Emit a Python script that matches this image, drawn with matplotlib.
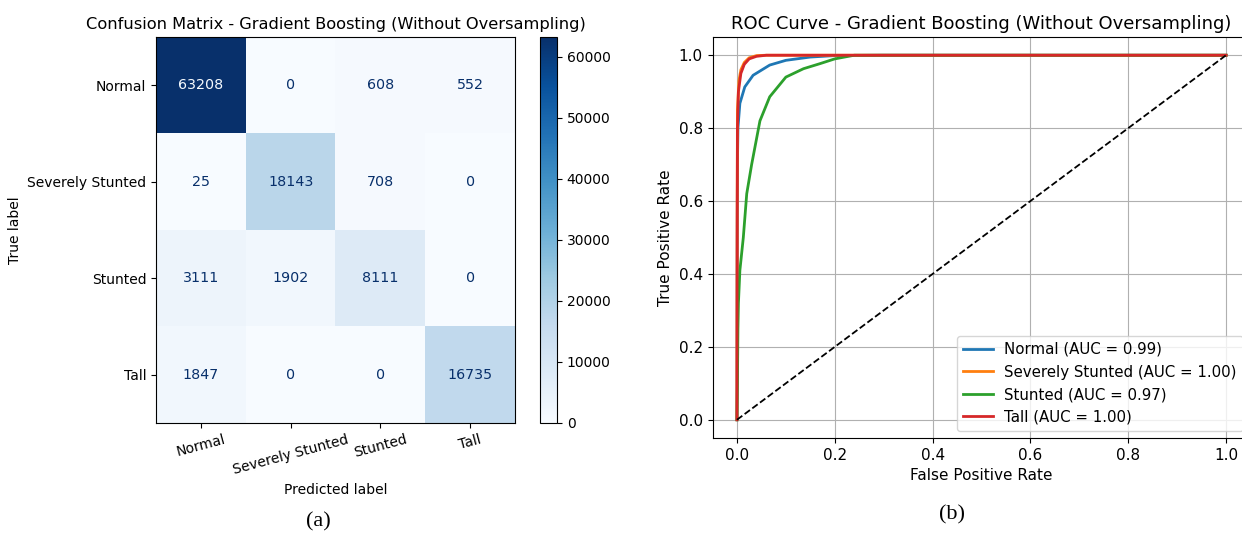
import matplotlib
matplotlib.use("Agg")
import matplotlib.pyplot as plt
import numpy as np

plt.rcParams['font.family'] = ['DejaVu Sans']

# ---- data ----
classes = ["Normal", "Severely Stunted", "Stunted", "Tall"]
cm_row_normal = [63208, 0, 608, 552]
cm_row_severe = [25, 18143, 708, 0]
cm_row_stunted = [3111, 1902, 8111, 0]
cm_row_tall = [1847, 0, 0, 16735]
cbar_ticks = [0, 10000, 20000, 30000, 40000, 50000, 60000]

normal_fpr = [0.0, 0.0005, 0.001, 0.002, 0.006, 0.016, 0.033, 0.067, 0.10, 0.15, 0.20, 0.30, 1.0]
normal_tpr = [0.0, 0.45, 0.70, 0.80, 0.868, 0.913, 0.945, 0.973, 0.986, 0.995, 0.999, 1.0, 1.0]
severe_fpr = [0.0, 0.0005, 0.001, 0.004, 0.008, 0.015, 0.025, 0.04, 0.06, 1.0]
severe_tpr = [0.0, 0.60, 0.85, 0.93, 0.96, 0.98, 0.993, 0.999, 1.0, 1.0]
stunted_fpr = [0.0, 0.001, 0.002, 0.003, 0.006, 0.013, 0.02, 0.03, 0.047, 0.067, 0.10, 0.136, 0.17, 0.20, 0.24, 1.0]
stunted_tpr = [0.0, 0.10, 0.25, 0.32, 0.41, 0.50, 0.62, 0.70, 0.82, 0.886, 0.94, 0.963, 0.977, 0.99, 1.0, 1.0]
tall_fpr = [0.0, 0.0005, 0.001, 0.003, 0.008, 0.015, 0.025, 0.04, 0.06, 1.0]
tall_tpr = [0.0, 0.55, 0.80, 0.90, 0.95, 0.975, 0.99, 0.997, 1.0, 1.0]
auc_values = [0.99, 1.00, 0.97, 1.00]

W, H = 1242, 539
fig = plt.figure(figsize=(W / 100, H / 100), dpi=100)

def box(x0, y0, x1, y1):
    return [x0 / W, 1 - y1 / H, (x1 - x0) / W, (y1 - y0) / H]

# ---- confusion matrix ----
cm = np.array([cm_row_normal, cm_row_severe, cm_row_stunted, cm_row_tall])
ax1 = fig.add_axes(box(156, 37, 515, 423))
cax = fig.add_axes(box(540, 37, 557, 423))
cmap = plt.get_cmap('Blues')
im = ax1.imshow(cm, cmap=cmap, aspect='auto', interpolation='nearest')
thresh = (cm.max() + cm.min()) / 2.0
for i in range(cm.shape[0]):
    for j in range(cm.shape[1]):
        color = cmap(0.0) if cm[i, j] > thresh else cmap(1.0)
        ax1.text(j, i, f"{cm[i, j]}", ha='center', va='center', color=color, fontsize=10.3)
ax1.set_xticks(range(len(classes)))
ax1.set_yticks(range(len(classes)))
ax1.set_xticklabels(classes, rotation=15, fontsize=10)
ax1.set_yticklabels(classes, fontsize=10)
ax1.set_xlabel("Predicted label", fontsize=10)
ax1.set_ylabel("True label", fontsize=10)
ax1.set_title("Confusion Matrix - Gradient Boosting (Without Oversampling)", fontsize=11.7)
cb = fig.colorbar(im, cax=cax)
cb.set_ticks(cbar_ticks)
cb.ax.tick_params(labelsize=10)
fig.text(318 / W, 1 - 522 / H, "(a)", ha='center', va='center',
         fontsize=16, family='Liberation Serif')

# ---- ROC ----
ax2 = fig.add_axes(box(712.5, 37, 1250.5, 438))
colors = ['tab:blue', 'tab:orange', 'tab:green', 'tab:red']
curves = [(normal_fpr, normal_tpr), (severe_fpr, severe_tpr),
          (stunted_fpr, stunted_tpr), (tall_fpr, tall_tpr)]
for (fx, ty), name, auc, c in zip(curves, classes, auc_values, colors):
    ax2.plot(fx, ty, color=c, lw=2, label=f"{name} (AUC = {auc:.2f})")
ax2.plot([0, 1], [0, 1], 'k--', lw=1.3)
ax2.set_xlim(-0.05, 1.05)
ax2.set_ylim(-0.05, 1.05)
ax2.tick_params(labelsize=11)
ax2.set_xlabel("False Positive Rate", fontsize=11)
ax2.set_ylabel("True Positive Rate", fontsize=11)
ax2.set_title("ROC Curve - Gradient Boosting (Without Oversampling)", fontsize=13)
ax2.grid(True)
ax2.legend(loc='lower right', fontsize=10.8)
fig.text(952 / W, 1 - 515 / H, "(b)", ha='center', va='center',
         fontsize=16, family='Liberation Serif')

fig.savefig("out.png", dpi=100)
